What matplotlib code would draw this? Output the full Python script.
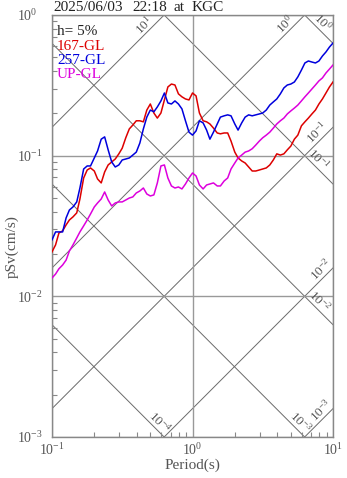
import numpy as np
import matplotlib
matplotlib.use("Agg")
import matplotlib.pyplot as plt
from matplotlib.ticker import LogLocator, LogFormatterSciNotation, NullFormatter

plt.rcParams['font.family'] = ['Liberation Serif', 'DejaVu Serif']
plt.rcParams['mathtext.fontset'] = 'custom'
plt.rcParams['mathtext.rm'] = 'Liberation Serif'
plt.rcParams['mathtext.it'] = 'Liberation Serif:italic'
plt.rcParams['mathtext.bf'] = 'Liberation Serif:bold'

# pseudo velocity response spectra, h=5%
period = [0.100, 0.106, 0.112, 0.119, 0.126, 0.133, 0.141, 0.150, 0.158, 0.168,
          0.178, 0.188, 0.200, 0.211, 0.224, 0.237, 0.251, 0.266, 0.282, 0.299,
          0.316, 0.335, 0.355, 0.376, 0.398, 0.422, 0.447, 0.473, 0.501, 0.531,
          0.562, 0.596, 0.631, 0.668, 0.708, 0.750, 0.794, 0.841, 0.891, 0.944,
          1.00, 1.06, 1.12, 1.19, 1.26, 1.33, 1.41, 1.50, 1.58, 1.68,
          1.78, 1.88, 2.00, 2.11, 2.24, 2.37, 2.51, 2.66, 2.82, 2.99,
          3.16, 3.35, 3.55, 3.76, 3.98, 4.22, 4.47, 4.73, 5.01, 5.31,
          5.62, 5.96, 6.31, 6.68, 7.08, 7.50, 7.94, 8.41, 8.91, 9.44, 10.0]

psv_167 = [0.0207, 0.0232, 0.0282, 0.0292, 0.0322, 0.0349, 0.0367, 0.0392, 0.0492, 0.0694,
           0.0791, 0.0818, 0.0778, 0.0683, 0.0640, 0.0766, 0.0859, 0.0902, 0.0947, 0.103,
           0.113, 0.134, 0.155, 0.165, 0.177, 0.177, 0.174, 0.211, 0.233, 0.201,
           0.185, 0.201, 0.249, 0.308, 0.323, 0.318, 0.275, 0.262, 0.253, 0.249,
           0.279, 0.266, 0.201, 0.177, 0.174, 0.168, 0.157, 0.145, 0.143, 0.145,
           0.145, 0.127, 0.106, 0.0963, 0.0917, 0.0887, 0.0831, 0.0778, 0.0778, 0.0791,
           0.0804, 0.0818, 0.0859, 0.0932, 0.103, 0.101, 0.103, 0.110, 0.117, 0.131,
           0.140, 0.163, 0.174, 0.185, 0.198, 0.211, 0.233, 0.253, 0.279, 0.308, 0.334]

psv_257 = [0.0252, 0.0287, 0.0287, 0.0287, 0.0361, 0.0411, 0.0432, 0.0469, 0.0589, 0.0804,
           0.0845, 0.0845, 0.0963, 0.108, 0.131, 0.136, 0.110, 0.0902, 0.0831, 0.0859,
           0.0932, 0.0947, 0.0963, 0.101, 0.106, 0.123, 0.155, 0.188, 0.211, 0.205,
           0.222, 0.245, 0.279, 0.237, 0.233, 0.245, 0.233, 0.215, 0.177, 0.147,
           0.140, 0.150, 0.177, 0.171, 0.152, 0.131, 0.147, 0.168, 0.188, 0.192,
           0.195, 0.192, 0.168, 0.152, 0.171, 0.188, 0.195, 0.192, 0.195, 0.198,
           0.201, 0.211, 0.229, 0.241, 0.253, 0.275, 0.303, 0.318, 0.323, 0.334,
           0.363, 0.406, 0.456, 0.471, 0.463, 0.456, 0.471, 0.511, 0.546, 0.592, 0.632]

psv_up = [0.0135, 0.0144, 0.0157, 0.0167, 0.0181, 0.0210, 0.0232, 0.0260, 0.0287, 0.0317,
          0.0349, 0.0385, 0.0432, 0.0461, 0.0492, 0.0552, 0.0484, 0.0439, 0.0461, 0.0469,
          0.0469, 0.0484, 0.0500, 0.0509, 0.0543, 0.0561, 0.0589, 0.0534, 0.0517, 0.0526,
          0.0640, 0.0845, 0.0859, 0.0694, 0.0609, 0.0589, 0.0599, 0.0580, 0.0629, 0.0694,
          0.0753, 0.0717, 0.0619, 0.0580, 0.0619, 0.0629, 0.0640, 0.0609, 0.0609, 0.0661,
          0.0694, 0.0804, 0.0887, 0.0963, 0.101, 0.106, 0.108, 0.112, 0.119, 0.127,
          0.134, 0.140, 0.147, 0.157, 0.168, 0.177, 0.185, 0.198, 0.208, 0.218,
          0.229, 0.245, 0.262, 0.279, 0.298, 0.318, 0.340, 0.357, 0.387, 0.413, 0.441]

# constant acceleration (cm/s2) and displacement (cm) guide lines
sa_levels = [10, 1, 0.1, 0.01, 0.001]
sa_label_T = [0.49, 4.94, 8.4, 8.9, 8.9]
sd_levels = [1, 0.1, 0.01, 0.001, 0.0001]
sd_label_T = [7.73, 7.21, 7.33, 5.38, 0.532]

title_parts = ['2025/06/03', '22:18', 'at', 'KGC']
title_x = [53, 132, 173, 192]

grey = '#888888'
guide = '#6a6a6a'
txt = '#555555'

fig = plt.figure(figsize=(3.47, 4.78), dpi=100)
ax = fig.add_axes([52 / 347, 41 / 478, 281 / 347, 422 / 478])
ax.set_xscale('log')
ax.set_yscale('log')

tt = np.logspace(-2, 2, 50)
w = 2 * np.pi
for sa, tl in zip(sa_levels, sa_label_T):
    ax.plot(tt, sa * tt / w, color=guide, lw=0.7, zorder=1)
    ax.text(tl, sa * tl / w, r'$10^{%d}$' % round(np.log10(sa)), rotation=45,
            rotation_mode='anchor', ha='center', va='bottom', fontsize=9.5,
            color=txt)
for sd, tl in zip(sd_levels, sd_label_T):
    ax.plot(tt, sd * w / tt, color=guide, lw=0.7, zorder=1)
    ax.text(tl, sd * w / tl, r'$10^{%d}$' % round(np.log10(sd)), rotation=-45,
            rotation_mode='anchor', ha='center', va='bottom', fontsize=9.5,
            color=txt)

ax.plot(period, psv_167, color='#dd0000', lw=1.1, zorder=3)
ax.plot(period, psv_257, color='#0000dd', lw=1.1, zorder=3)
ax.plot(period, psv_up, color='#dd00dd', lw=1.1, zorder=3)

ax.set_xlim(0.1, 10)
ax.set_ylim(1e-3, 1)

ax.xaxis.set_major_locator(LogLocator(base=10))
ax.yaxis.set_major_locator(LogLocator(base=10))
ax.xaxis.set_major_formatter(LogFormatterSciNotation())
ax.yaxis.set_major_formatter(LogFormatterSciNotation())
ax.xaxis.set_minor_formatter(NullFormatter())
ax.yaxis.set_minor_formatter(NullFormatter())
ax.grid(True, which='major', color='#999999', lw=1.0, zorder=0)
ax.tick_params(which='both', direction='in', color=grey, top=False, right=False,
               labelsize=10, labelcolor=txt)
ax.tick_params(which='major', length=0)
ax.tick_params(which='minor', length=3.5, width=0.8)
ax.tick_params(axis='y', pad=25)
ax.tick_params(axis='x', pad=4)
plt.setp(ax.get_yticklabels(), ha='left')
for s in ax.spines.values():
    s.set_color(grey)
    s.set_linewidth(1.0)

ax.text(0.018, 0.952, 'h= 5%', transform=ax.transAxes, fontsize=11, color='#222222', va='baseline')
ax.text(0.018, 0.918, '167-GL', transform=ax.transAxes, fontsize=11, color='#dd0000', va='baseline')
ax.text(0.018, 0.884, '257-GL', transform=ax.transAxes, fontsize=11, color='#0000dd', va='baseline')
ax.text(0.018, 0.850, 'UP-GL', transform=ax.transAxes, fontsize=11, color='#dd00dd', va='baseline')

for part, px in zip(title_parts, title_x):
    fig.text(px / 347, 1 - 10.7 / 478, part, fontsize=11, color='#222222',
             va='baseline')
fig.text(192 / 347, 1 - 469 / 478, 'Period(s)', fontsize=11, color=txt,
         ha='center', va='baseline')
fig.text(12 / 347, 1 - 247 / 478, 'pSv(cm/s)', fontsize=11, color=txt,
         ha='center', va='center', rotation=90)

fig.savefig('out.png', dpi=100)
